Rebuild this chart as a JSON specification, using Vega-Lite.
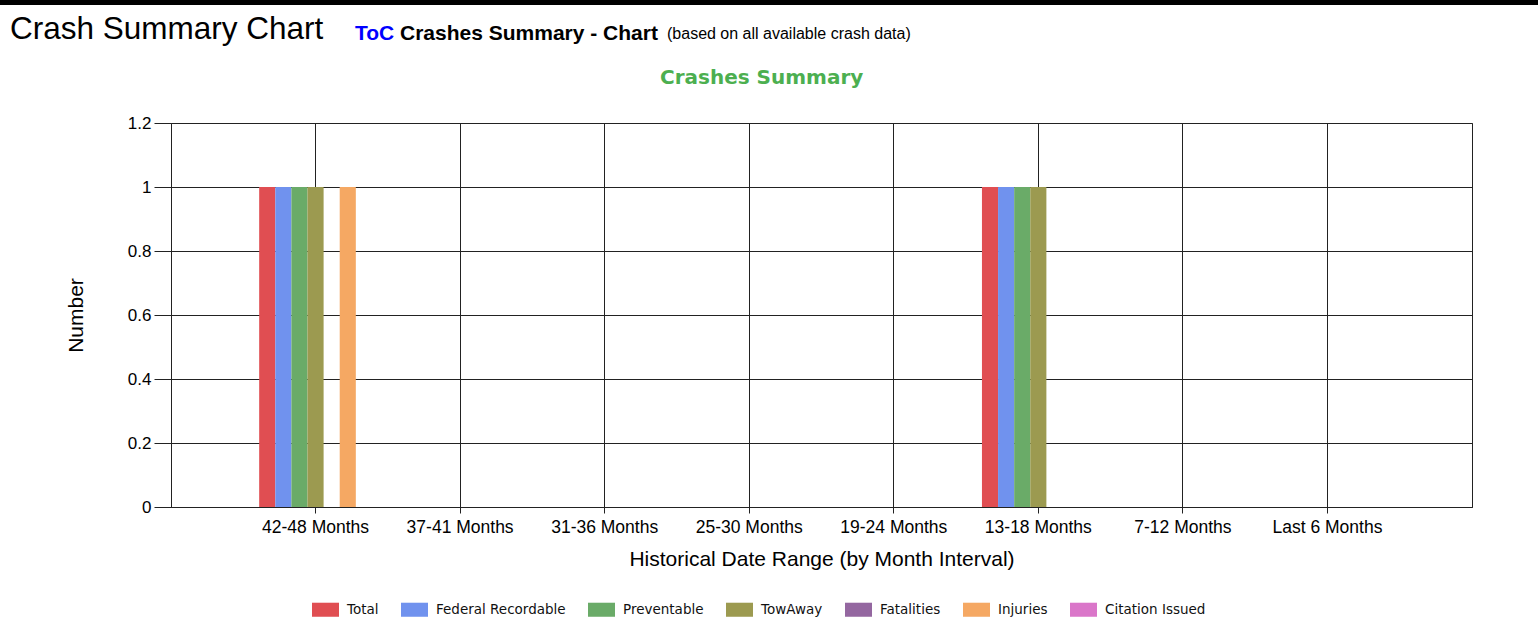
{
  "$schema": "https://vega.github.io/schema/vega-lite/v6.json",
  "padding": 0,
  "background": "white",
  "spacing": 8,
  "config": {"view": {"stroke": null}, "font": "Liberation Sans"},
  "vconcat": [
    {
      "width": 1538, "height": 5,
      "data": {"values": []},
      "mark": "point",
      "view": {"fill": "#000", "stroke": null}
    },
    {
      "spacing": 0,
      "bounds": "flush",
      "hconcat": [
        {
          "width": 355, "height": 29,
          "data": {"values": []},
          "mark": "point",
          "title": {"text": "Crash Summary Chart", "anchor": "start", "frame": "group", "orient": "top", "offset": -33, "baseline": "alphabetic", "dx": 10, "dy": 7, "font": "Liberation Sans", "fontSize": 31.5, "fontWeight": "normal", "color": "#000"}
        },
        {
          "width": 45, "height": 29,
          "data": {"values": []},
          "mark": "point",
          "title": {"text": "ToC", "anchor": "start", "frame": "group", "orient": "top", "offset": -33, "baseline": "alphabetic", "dy": -2, "font": "Liberation Sans", "fontSize": 21, "fontWeight": "bold", "color": "#0000FF"}
        },
        {
          "width": 267, "height": 29,
          "data": {"values": []},
          "mark": "point",
          "title": {"text": "Crashes Summary - Chart", "anchor": "start", "frame": "group", "orient": "top", "offset": -33, "baseline": "alphabetic", "dy": -2, "font": "Liberation Sans", "fontSize": 21, "fontWeight": "bold", "color": "#000"}
        },
        {
          "width": 871, "height": 29,
          "data": {"values": []},
          "mark": "point",
          "title": {"text": "(based on all available crash data)", "anchor": "start", "frame": "group", "orient": "top", "offset": -33, "baseline": "alphabetic", "dy": -8, "font": "Liberation Sans", "fontSize": 16, "fontWeight": "normal", "color": "#000"}
        }
      ]
    },
    {
      "spacing": 0,
      "hconcat": [
        {
          "width": 64, "height": 10,
          "data": {"values": []},
          "mark": "point"
        },
        {
          "width": 1301,
          "height": 384,
          "view": {"stroke": "#222", "strokeWidth": 1},
          "title": {"text": "Crashes Summary", "font": "DejaVu Sans", "fontSize": 20, "fontWeight": "bold", "color": "#4CAF50", "anchor": "middle", "frame": "bounds", "offset": 26, "dx": -7},
          "data": {
            "values": [
              {"range": "42-48 Months", "series": "Total", "value": 1},
              {"range": "42-48 Months", "series": "Federal Recordable", "value": 1},
              {"range": "42-48 Months", "series": "Preventable", "value": 1},
              {"range": "42-48 Months", "series": "TowAway", "value": 1},
              {"range": "42-48 Months", "series": "Fatalities", "value": 0},
              {"range": "42-48 Months", "series": "Injuries", "value": 1},
              {"range": "42-48 Months", "series": "Citation Issued", "value": 0},
              {"range": "37-41 Months", "series": "Total", "value": 0},
              {"range": "37-41 Months", "series": "Federal Recordable", "value": 0},
              {"range": "37-41 Months", "series": "Preventable", "value": 0},
              {"range": "37-41 Months", "series": "TowAway", "value": 0},
              {"range": "37-41 Months", "series": "Fatalities", "value": 0},
              {"range": "37-41 Months", "series": "Injuries", "value": 0},
              {"range": "37-41 Months", "series": "Citation Issued", "value": 0},
              {"range": "31-36 Months", "series": "Total", "value": 0},
              {"range": "31-36 Months", "series": "Federal Recordable", "value": 0},
              {"range": "31-36 Months", "series": "Preventable", "value": 0},
              {"range": "31-36 Months", "series": "TowAway", "value": 0},
              {"range": "31-36 Months", "series": "Fatalities", "value": 0},
              {"range": "31-36 Months", "series": "Injuries", "value": 0},
              {"range": "31-36 Months", "series": "Citation Issued", "value": 0},
              {"range": "25-30 Months", "series": "Total", "value": 0},
              {"range": "25-30 Months", "series": "Federal Recordable", "value": 0},
              {"range": "25-30 Months", "series": "Preventable", "value": 0},
              {"range": "25-30 Months", "series": "TowAway", "value": 0},
              {"range": "25-30 Months", "series": "Fatalities", "value": 0},
              {"range": "25-30 Months", "series": "Injuries", "value": 0},
              {"range": "25-30 Months", "series": "Citation Issued", "value": 0},
              {"range": "19-24 Months", "series": "Total", "value": 0},
              {"range": "19-24 Months", "series": "Federal Recordable", "value": 0},
              {"range": "19-24 Months", "series": "Preventable", "value": 0},
              {"range": "19-24 Months", "series": "TowAway", "value": 0},
              {"range": "19-24 Months", "series": "Fatalities", "value": 0},
              {"range": "19-24 Months", "series": "Injuries", "value": 0},
              {"range": "19-24 Months", "series": "Citation Issued", "value": 0},
              {"range": "13-18 Months", "series": "Total", "value": 1},
              {"range": "13-18 Months", "series": "Federal Recordable", "value": 1},
              {"range": "13-18 Months", "series": "Preventable", "value": 1},
              {"range": "13-18 Months", "series": "TowAway", "value": 1},
              {"range": "13-18 Months", "series": "Fatalities", "value": 0},
              {"range": "13-18 Months", "series": "Injuries", "value": 0},
              {"range": "13-18 Months", "series": "Citation Issued", "value": 0},
              {"range": "7-12 Months", "series": "Total", "value": 0},
              {"range": "7-12 Months", "series": "Federal Recordable", "value": 0},
              {"range": "7-12 Months", "series": "Preventable", "value": 0},
              {"range": "7-12 Months", "series": "TowAway", "value": 0},
              {"range": "7-12 Months", "series": "Fatalities", "value": 0},
              {"range": "7-12 Months", "series": "Injuries", "value": 0},
              {"range": "7-12 Months", "series": "Citation Issued", "value": 0},
              {"range": "Last 6 Months", "series": "Total", "value": 0},
              {"range": "Last 6 Months", "series": "Federal Recordable", "value": 0},
              {"range": "Last 6 Months", "series": "Preventable", "value": 0},
              {"range": "Last 6 Months", "series": "TowAway", "value": 0},
              {"range": "Last 6 Months", "series": "Fatalities", "value": 0},
              {"range": "Last 6 Months", "series": "Injuries", "value": 0},
              {"range": "Last 6 Months", "series": "Citation Issued", "value": 0}
            ]
          },
          "mark": {"type": "bar"},
          "encoding": {
            "x": {
              "field": "range", "type": "nominal",
              "sort": ["42-48 Months", "37-41 Months", "31-36 Months", "25-30 Months", "19-24 Months", "13-18 Months", "7-12 Months", "Last 6 Months"],
              "scale": {"paddingInner": 0.22, "paddingOuter": 0.61},
              "axis": {
                "title": "Historical Date Range (by Month Interval)",
                "labelAngle": 0, "bandPosition": 0.5,
                "grid": true, "gridColor": "#222", "gridOpacity": 1, "gridWidth": 1,
                "domainColor": "#222", "tickColor": "#222", "tickSize": 6,
                "labelPadding": 5, "labelFont": "Liberation Sans", "labelFontSize": 17.5, "labelColor": "#000",
                "titleFont": "Liberation Sans", "titleFontSize": 21, "titleFontWeight": "normal", "titleColor": "#000", "titlePadding": 13
              }
            },
            "xOffset": {
              "field": "series", "type": "nominal",
              "sort": ["Total", "Federal Recordable", "Preventable", "TowAway", "Fatalities", "Injuries", "Citation Issued"],
              "scale": {"paddingInner": 0, "paddingOuter": 0}
            },
            "y": {
              "field": "value", "type": "quantitative",
              "scale": {"domain": [0, 1.2], "nice": false},
              "axis": {
                "title": "Number",
                "values": [0, 0.2, 0.4, 0.6, 0.8, 1, 1.2], "format": "~g",
                "grid": true, "gridColor": "#222", "gridOpacity": 1, "gridWidth": 1,
                "domainColor": "#222", "tickColor": "#222", "tickSize": 17,
                "labelPadding": 3, "labelFont": "Liberation Sans", "labelFontSize": 17, "labelColor": "#000",
                "titleFont": "Liberation Sans", "titleFontSize": 21, "titleFontWeight": "normal", "titleColor": "#000", "titlePadding": 41
              }
            },
            "color": {
              "field": "series", "type": "nominal",
              "scale": {
                "domain": ["Total", "Federal Recordable", "Preventable", "TowAway", "Fatalities", "Injuries", "Citation Issued"],
                "range": ["#E04E52", "#7092EE", "#6AAB68", "#9C9A50", "#9467A0", "#F5A863", "#DA76C9"]
              },
              "legend": {
                "orient": "none", "legendX": 312, "legendY": 596, "direction": "horizontal", "title": null,
                "symbolType": "M-1,-0.52H1V0.52H-1Z", "symbolSize": 729, "symbolStrokeWidth": 0, "symbolOpacity": 1,
                "labelFont": "DejaVu Sans", "labelFontSize": 13.5, "labelColor": "#111",
                "labelOffset": 8, "columnPadding": 22, "padding": 0
              }
            }
          }
        }
      ]
    }
  ]
}
